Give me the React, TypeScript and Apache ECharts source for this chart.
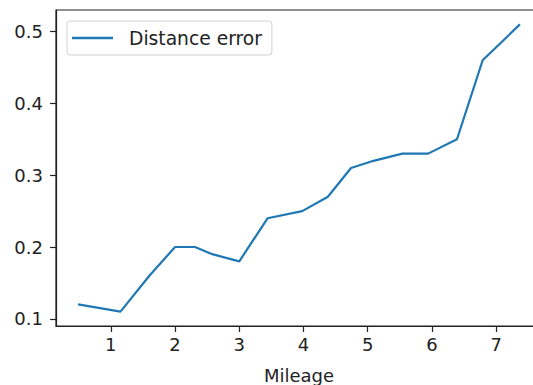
import React, { useEffect, useRef } from "react";
import * as echarts from "echarts";

const mileage = [0.49, 1.15, 1.6, 2.0, 2.31, 2.58, 3.0, 3.44, 3.98, 4.38, 4.74, 5.09, 5.54, 5.94, 6.39, 6.79, 7.37];
const distanceError = [0.12, 0.11, 0.16, 0.2, 0.2, 0.19, 0.18, 0.24, 0.25, 0.27, 0.31, 0.32, 0.33, 0.33, 0.35, 0.46, 0.51];
const xTicks = [1, 2, 3, 4, 5, 6, 7];
const yTicks = [0.1, 0.2, 0.3, 0.4, 0.5];
const seriesName = "Distance error";
const xName = "Mileage";

const FONT = "DejaVu Sans";
const INK = "#222";

export default function App() {
  const ref = useRef<HTMLDivElement>(null);
  useEffect(() => {
    if (!ref.current) return;
    const chart = echarts.init(ref.current, null, { renderer: "svg" });
    chart.setOption({
      animation: false,
      backgroundColor: "#fff",
      grid: {
        left: 56,
        top: 10,
        right: -9,
        bottom: 59,
        outerBoundsMode: "none",
        containLabel: false,
        show: true,
        borderColor: INK,
        borderWidth: 1.2,
        backgroundColor: "transparent",
      },
      legend: {
        left: 67,
        top: 21,
        orient: "horizontal",
        padding: [7, 10, 7, 5],
        itemWidth: 41,
        itemHeight: 2.5,
        icon: "rect",
        backgroundColor: "rgba(255,255,255,0.8)",
        borderColor: "#d0d0d0",
        borderWidth: 1,
        borderRadius: 3,
        textStyle: {
          fontFamily: FONT,
          fontSize: 18.7,
          color: INK,
          lineHeight: 20,
          padding: [0, 0, 0, 11],
        },
        data: [seriesName],
      },
      xAxis: {
        type: "value",
        min: 0.146,
        max: 7.714,
        name: xName,
        nameLocation: "middle",
        nameGap: 40,
        nameTextStyle: { fontFamily: FONT, fontSize: 18, color: INK },
        splitLine: { show: false },
        axisLine: { show: true, lineStyle: { color: INK, width: 1.2 } },
        axisTick: { show: true, length: 6, customValues: xTicks, lineStyle: { color: INK, width: 1.2 } },
        axisLabel: {
          customValues: xTicks,
          fontFamily: FONT,
          fontSize: 18,
          color: INK,
          margin: 9,
          formatter: (v: number) => String(v),
        },
      },
      yAxis: {
        type: "value",
        min: 0.09,
        max: 0.53,
        splitLine: { show: false },
        axisLine: { show: true, lineStyle: { color: INK, width: 1.2 } },
        axisTick: { show: true, length: 6, customValues: yTicks, lineStyle: { color: INK, width: 1.2 } },
        axisLabel: {
          customValues: yTicks,
          fontFamily: FONT,
          fontSize: 18,
          color: INK,
          margin: 13,
          formatter: (v: number) => v.toFixed(1),
        },
      },
      series: [
        {
          name: seriesName,
          type: "line",
          data: mileage.map((m, i) => [m, distanceError[i]]),
          showSymbol: false,
          symbol: "none",
          color: "#1f77b4",
          lineStyle: { color: "#1f77b4", width: 2.2 },
        },
      ],
    });
    return () => chart.dispose();
  }, []);
  return (
    <div
      ref={ref}
      style={{ position: "fixed", left: 0, top: 0, width: 533, height: 385 }}
    />
  );
}
